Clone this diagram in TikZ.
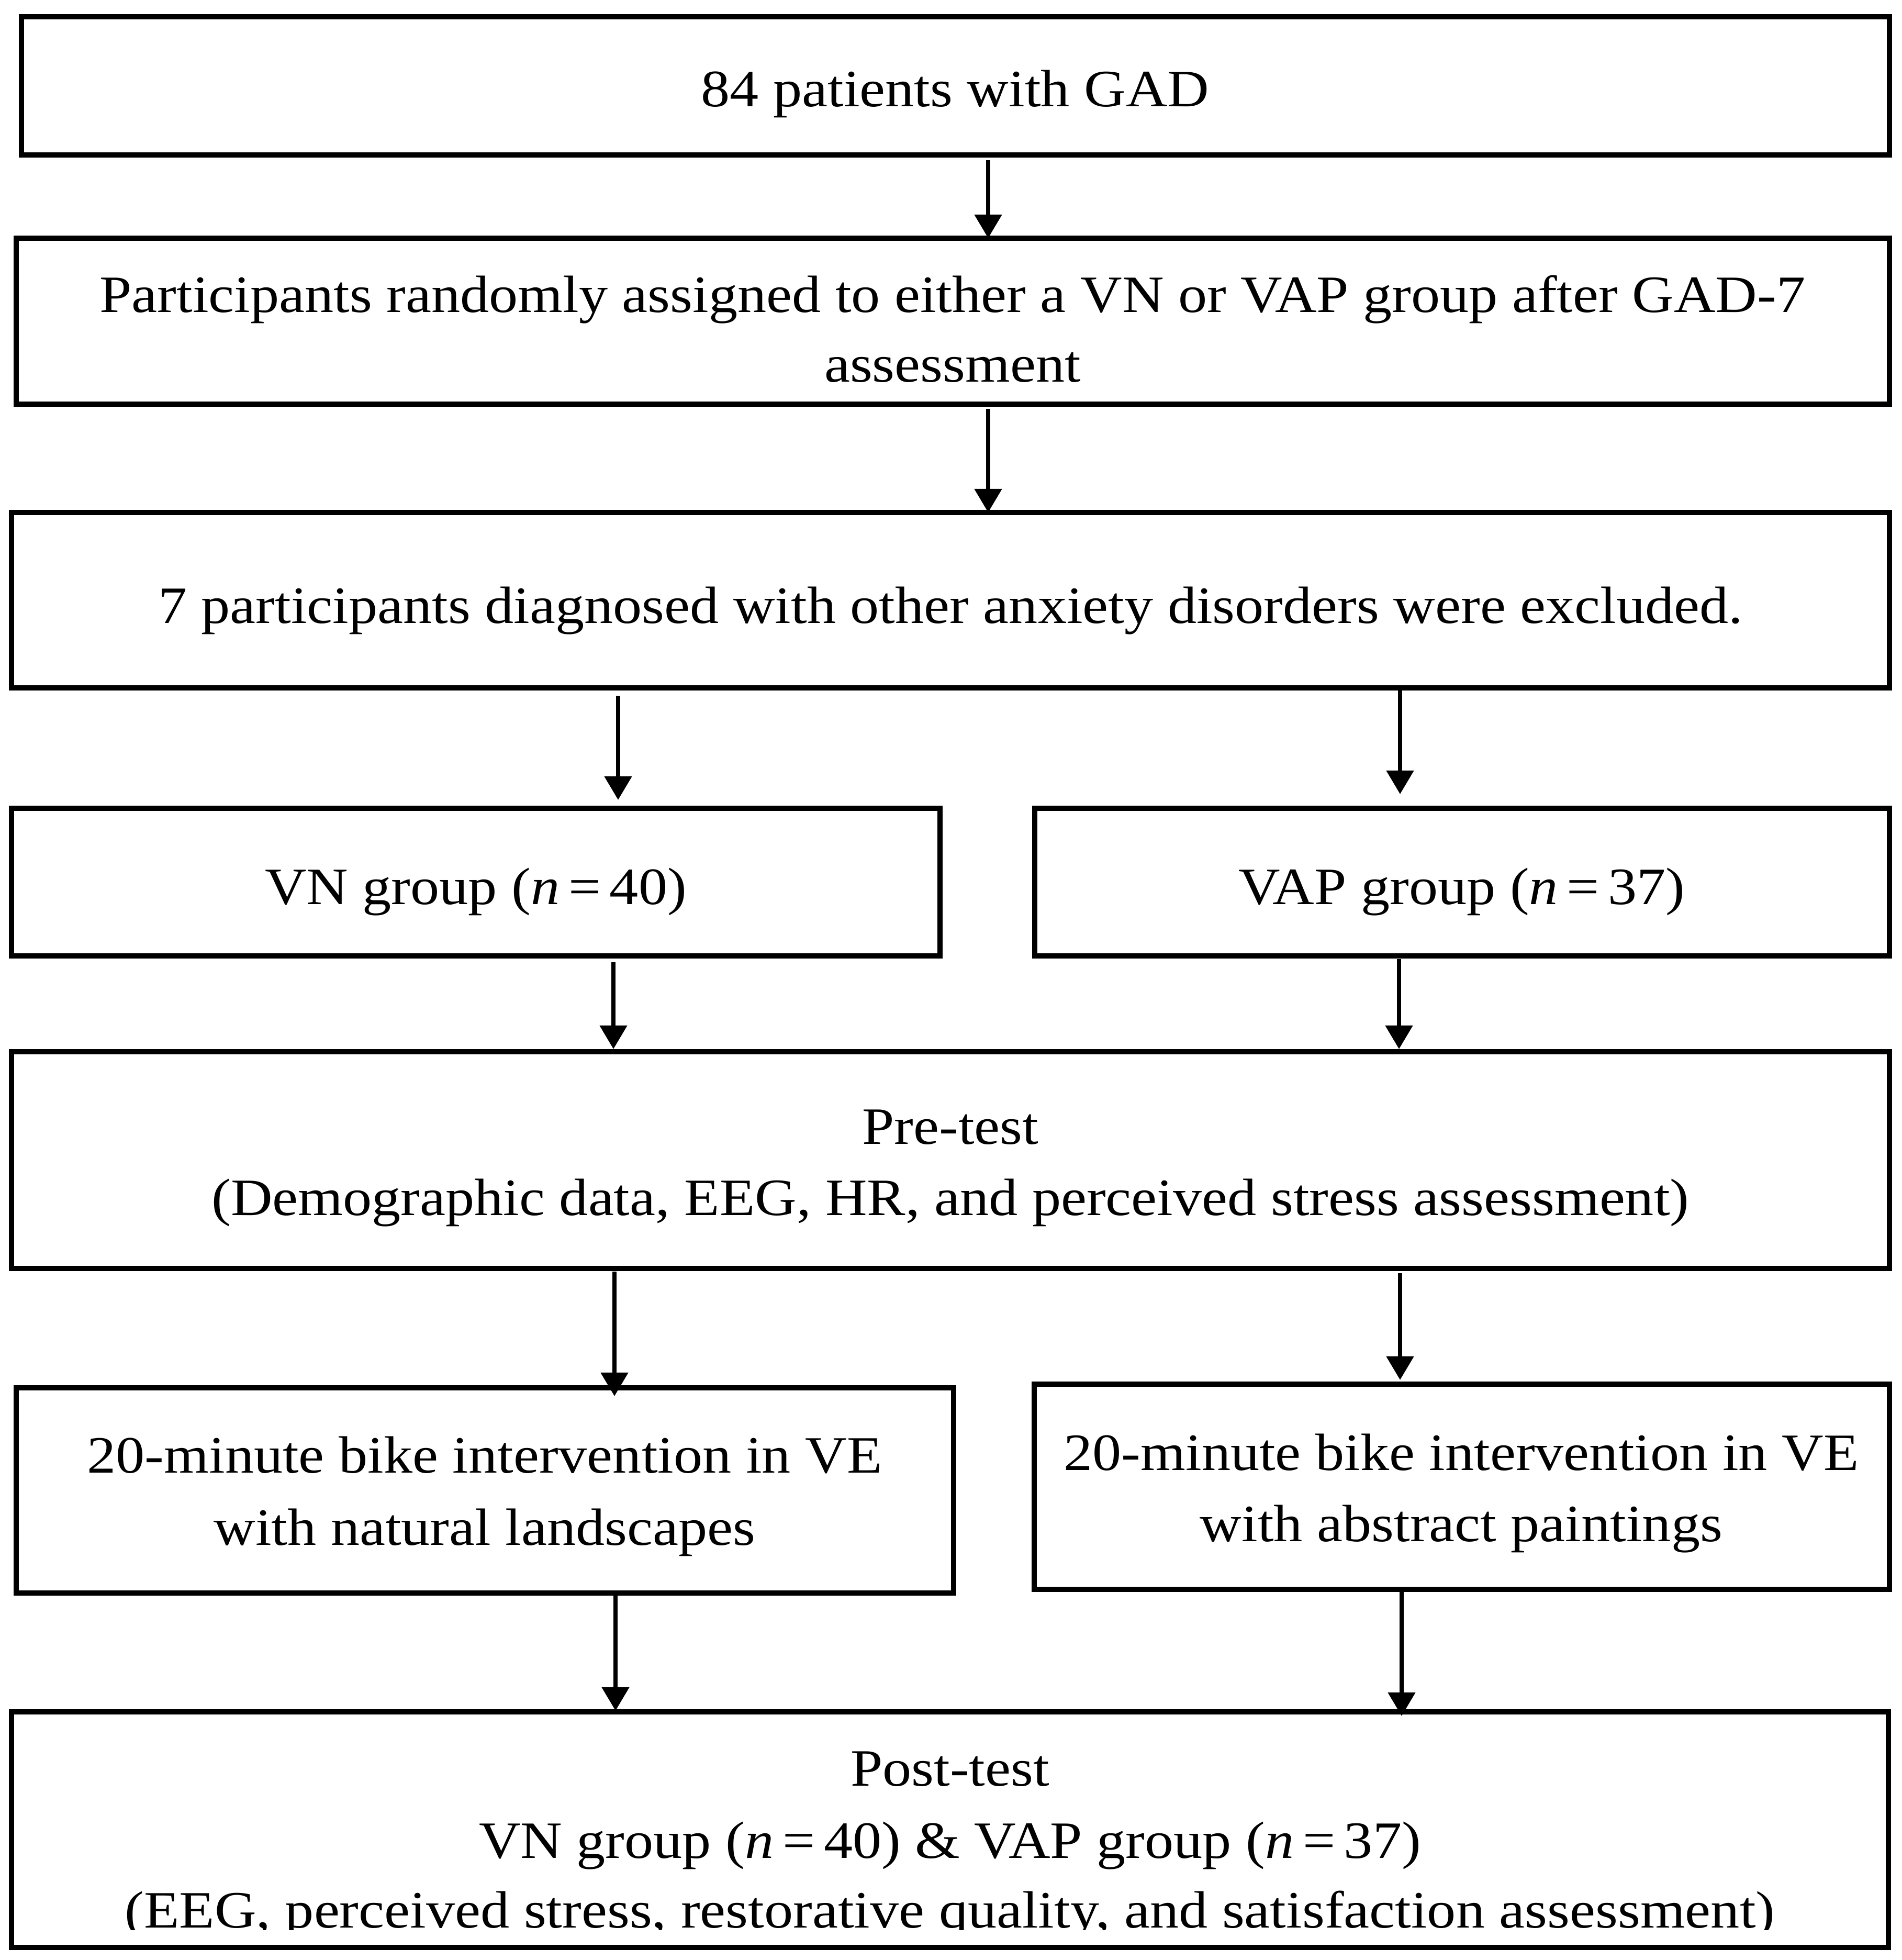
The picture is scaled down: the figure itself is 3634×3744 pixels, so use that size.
\documentclass[tikz,border=0pt]{standalone}
\usepackage{fontspec}
\setmainfont[FakeStretch=1.1]{Liberation Serif}
\usetikzlibrary{arrows.meta,calc}
\begin{document}
\begin{tikzpicture}[x=0.01cm,y=-0.01cm,
  box/.style={draw=black,line width=0.1cm,inner sep=0pt,outer sep=0pt},
  txt/.style={anchor=base,inner sep=0pt,font=\fontsize{28.5}{39}\selectfont},
  arr/.style={line width=0.08cm,-{Triangle[width=0.51cm,length=0.45cm]}}]
\useasboundingbox (0,0) rectangle (3634,3744);
% boxes
\node[box,minimum width=35.67cm,minimum height=2.64cm] (b1) at (1825.5,164) {};
\node[box,minimum width=35.77cm,minimum height=3.17cm] (b2) at (1820.5,613.5) {};
\node[box,minimum width=35.86cm,minimum height=3.35cm] (b3) at (1816,1146.5) {};
\node[box,minimum width=17.72cm,minimum height=2.82cm] (vn) at (909,1685) {};
\node[box,minimum width=16.32cm,minimum height=2.82cm] (vap) at (2793,1685) {};
\node[box,minimum width=35.86cm,minimum height=4.14cm] (pre) at (1816,2216) {};
\node[box,minimum width=17.89cm,minimum height=3.92cm] (bl) at (926.5,2847) {};
\node[box,minimum width=16.33cm,minimum height=3.92cm] (br) at (2792.5,2840) {};
\node[box,minimum width=35.84cm,minimum height=4.50cm] (post) at (1815,3495) {};
% texts
\node[txt] (t1) at (1825,203) {84 patients with GAD};
\node[txt] (t2a) at (1820,596) {Participants randomly assigned to either a VN or VAP group after GAD-7};
\node[txt] (t2b) at (1820,729) {assessment};
\node[txt] (t3) at (1816,1190) {7 participants diagnosed with other anxiety disorders were excluded.};
\node[txt] (tvn) at (909,1727) {VN group (\textit{n}\,=\,40)};
\node[txt] (tvap) at (2793,1727) {VAP group (\textit{n}\,=\,37)};
\node[txt] (tpre1) at (1816,2185) {Pre-test};
\node[txt] (tpre2) at (1816,2321) {(Demographic data, EEG, HR, and perceived stress assessment)};
\node[txt] (tbl1) at (926,2813) {20-minute bike intervention in VE};
\node[txt] (tbl2) at (926,2951) {with natural landscapes};
\node[txt] (tbr1) at (2792,2808) {20-minute bike intervention in VE};
\node[txt] (tbr2) at (2792,2944) {with abstract paintings};
\node[txt] (tpo1) at (1815,3411) {Post-test};
\node[txt] (tpo2) at (1815,3549) {VN group (\textit{n}\,=\,40) \& VAP group (\textit{n}\,=\,37)};
\begin{scope}
\clip (0,0) rectangle (3634,3686);
\node[txt] (tpo3) at (1815,3682) {(EEG, perceived stress, restorative quality, and satisfaction assessment)};
\end{scope}
% arrows
\draw[arr] ($(b1.south -| 1888,0)+(0,10)$) -- (b2.north -| 1888,0);
\draw[arr] ($(b2.south -| 1888,0)+(0,9)$) -- (b3.north -| 1888,0);
\draw[arr] ($(b3.south -| 1181,0)+(0,15)$) -- ($(vn.north -| 1181,0)+(0,-16)$);
\draw[arr] ($(b3.south -| 2675,0)+(0,5)$) -- ($(vap.north -| 2675,0)+(0,-27)$);
\draw[arr] ($(vn.south -| 1172,0)+(0,12)$) -- ($(pre.north -| 1172,0)+(0,-5)$);
\draw[arr] ($(vap.south -| 2673,0)+(0,6)$) -- ($(pre.north -| 2673,0)+(0,-5)$);
\draw[arr] ($(pre.south -| 1174,0)+(0,6)$) -- ($(bl.north -| 1174,0)+(0,16)$);
\draw[arr] ($(pre.south -| 2675,0)+(0,9)$) -- ($(br.north -| 2675,0)+(0,-8)$);
\draw[arr] ($(bl.south -| 1176,0)+(0,3)$) -- ($(post.north -| 1176,0)+(0,-2)$);
\draw[arr] (br.south -| 2678,0) -- ($(post.north -| 2678,0)+(0,8)$);
\end{tikzpicture}
\end{document}
